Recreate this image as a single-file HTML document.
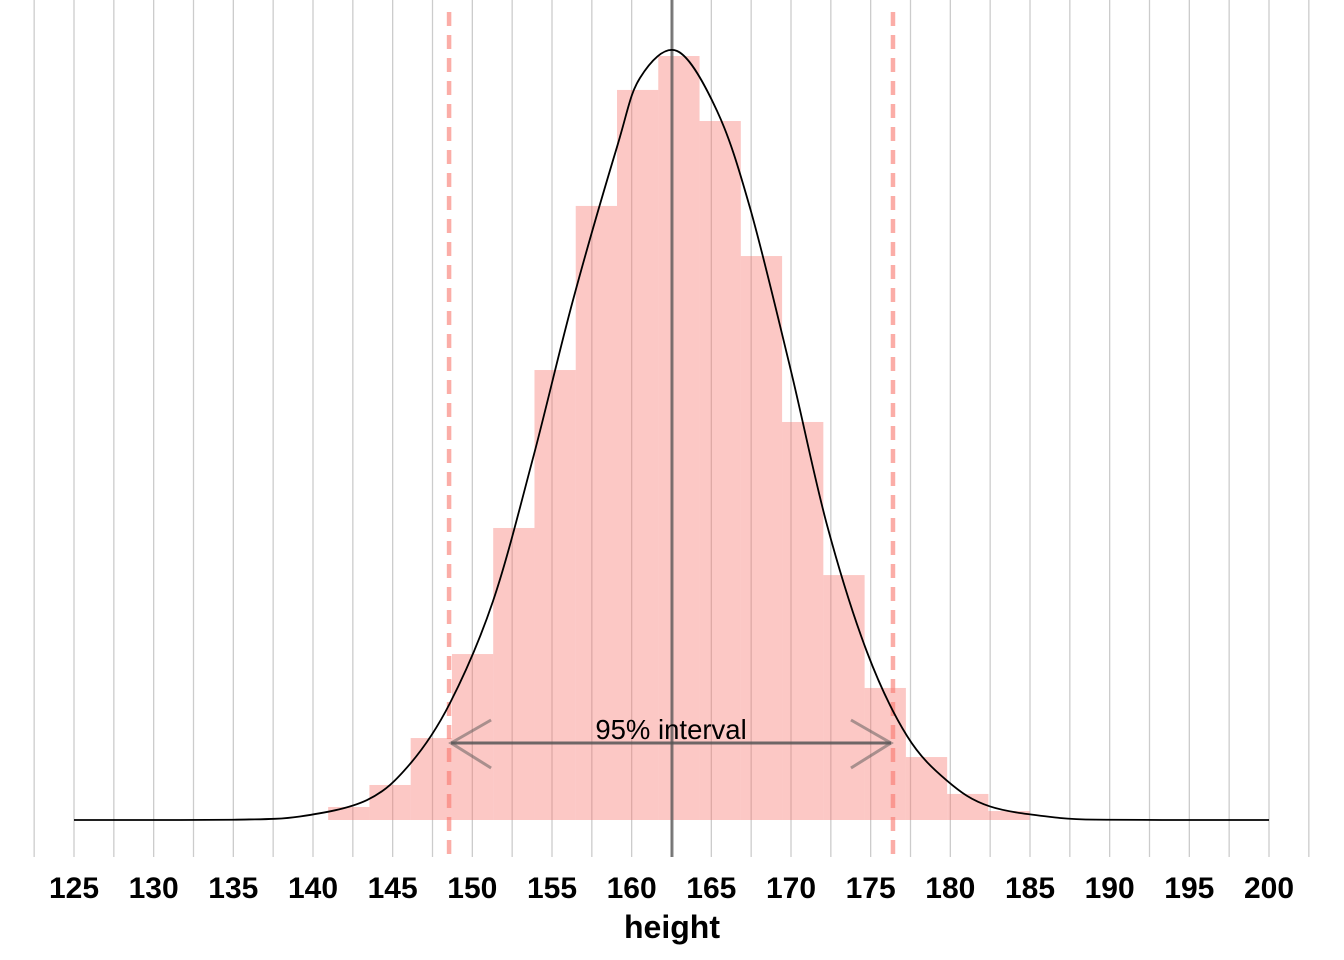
<!DOCTYPE html>
<html><head><meta charset="utf-8"><style>
html,body{margin:0;padding:0;background:#fff;}
svg{display:block;font-family:"Liberation Sans",Arial,sans-serif;}
</style></head><body>
<svg id="chart" width="1344" height="960" viewBox="0 0 1344 960">
<g id="grid"></g>
<g id="bars"></g>
<g id="refs"></g>
<g id="curve"></g>
<g id="annot"></g>
<g id="xaxis"></g>
</svg>
<script>
const tickLabels = [125,130,135,140,145,150,155,160,165,170,175,180,185,190,195,200];
const binStart = 140.95;
const binWidth = 2.59;
const binDensity = [0.00096,0.00258,0.00604,0.01223,0.02152,0.03316,0.04525,0.05380,0.05630,0.05151,0.04156,0.02933,0.01805,0.00973,0.00464,0.00192,0.00066];
const curveX = [125,130,135,139.18,143.39,146.09,148.6,151.3,153.81,156.32,159.08,160.52,162.85,165.36,167.43,169.94,172.26,174.77,177.28,179.79,182.49,186.88,190,195,200];
const curveY = [0,0,0.00002,0.00026,0.00147,0.00413,0.00862,0.01614,0.02668,0.03832,0.04960,0.05468,0.05667,0.05225,0.04510,0.03338,0.02174,0.01238,0.00620,0.00290,0.00100,0.00015,0.00002,0,0];
const meanValue = 162.53;
const intervalLow = 148.54;
const intervalHigh = 176.40;
const intervalLabel = "95% interval";
const axisTitle = "height";

const NS="http://www.w3.org/2000/svg";
const X = v => 74 + (v-125)*(1195/75);
const Y = d => 820 - d*13570;
function mk(tag, attrs, parent){const e=document.createElementNS(NS,tag);for(const k in attrs)e.setAttribute(k,attrs[k]);parent.appendChild(e);return e;}
const grid=document.getElementById('grid'), bars=document.getElementById('bars'), refs=document.getElementById('refs'), curve=document.getElementById('curve'), annot=document.getElementById('annot'), xaxis=document.getElementById('xaxis');

for(let v=122.5; v<=202.51; v+=2.5){
  const l=mk('line',{x1:X(v),x2:X(v),y1:0,y2:857,stroke:'#cccccc','stroke-width':1.3},grid);
  
  
}
binDensity.forEach((d,i)=>{
  const x0=X(binStart+i*binWidth), x1=X(binStart+(i+1)*binWidth);
  const r=mk('rect',{x:x0,y:Y(d),width:x1-x0,height:820-Y(d),fill:'#f8766d','fill-opacity':0.4},bars);
  
  
});
const ml=mk('line',{x1:X(meanValue),x2:X(meanValue),y1:0,y2:857,stroke:'#555','stroke-opacity':0.75,'stroke-width':3},refs);


[intervalLow,intervalHigh].forEach(v=>{
  const l=mk('line',{x1:X(v),x2:X(v),y1:12,y2:857,stroke:'#f8766d','stroke-opacity':0.6,'stroke-width':4.5,'stroke-dasharray':'14 9'},refs);
  
  
});
const pts=curveX.map((v,i)=>[X(v),Y(curveY[i])]);
let d=`M${pts[0][0]},${pts[0][1]}`;
for(let i=0;i<pts.length-1;i++){
  const p0=pts[Math.max(0,i-1)],p1=pts[i],p2=pts[i+1],p3=pts[Math.min(pts.length-1,i+2)];
  const c1=[p1[0]+(p2[0]-p0[0])/6,p1[1]+(p2[1]-p0[1])/6];
  const c2=[p2[0]-(p3[0]-p1[0])/6,p2[1]-(p3[1]-p1[1])/6];
  d+=` C${c1[0]},${Math.min(820,c1[1])} ${c2[0]},${Math.min(820,c2[1])} ${p2[0]},${p2[1]}`;
}
const cp=mk('path',{d:d,fill:'none',stroke:'#000','stroke-width':1.8},curve);


const ay=743, xl=X(intervalLow)+2, xr=X(intervalHigh)-2;
const al=mk('line',{x1:xl,x2:xr,y1:ay,y2:ay,stroke:'#555','stroke-opacity':0.85,'stroke-width':3},annot);


const heads=mk('path',{d:`M${xl+40},${ay-23} L${xl},${ay} L${xl+40},${ay+25} M${xr-40},${ay-23} L${xr},${ay} L${xr-40},${ay+25}`,fill:'none',stroke:'#555','stroke-opacity':0.5,'stroke-width':3},annot);


const at=mk('text',{x:(X(intervalLow)+X(intervalHigh))/2,y:739,'text-anchor':'middle','font-size':27.5,fill:'#000'},annot);
at.textContent=intervalLabel;


tickLabels.forEach(v=>{
  const t=mk('text',{x:X(v),y:898,'text-anchor':'middle','font-size':30,'font-weight':'bold',fill:'#000'},xaxis);
  t.textContent=v;
  
  
});
const tt=mk('text',{x:672,y:938,'text-anchor':'middle','font-size':32,'font-weight':'bold',fill:'#000'},xaxis);
tt.textContent=axisTitle;


</script>
</body></html>
